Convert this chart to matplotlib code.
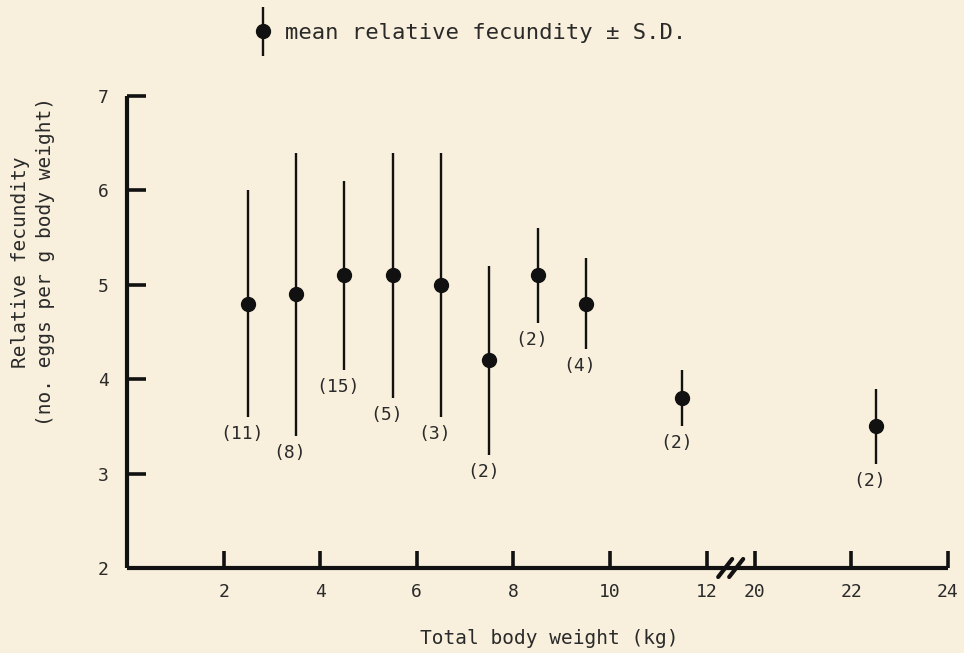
import numpy as np
import matplotlib
matplotlib.use("Agg")
import matplotlib.pyplot as plt
from matplotlib.lines import Line2D
from matplotlib.legend_handler import HandlerErrorbar
from matplotlib.container import ErrorbarContainer

# ---- data ----
body_weight = [2.5, 3.5, 4.5, 5.5, 6.5, 7.5, 8.5, 9.5, 11.5, 22.5]
mean_fecundity = [4.8, 4.9, 5.1, 5.1, 5.0, 4.2, 5.1, 4.8, 3.8, 3.5]
sd_fecundity = [1.2, 1.5, 1.0, 1.3, 1.4, 1.0, 0.5, 0.48, 0.3, 0.4]
sample_n = [11, 8, 15, 5, 3, 2, 2, 4, 2, 2]
x_ticks = [2, 4, 6, 8, 10, 12, 20, 22, 24]
y_ticks = [2, 3, 4, 5, 6, 7]

BG = "#f8f0dc"
INK = "#111111"
TXT = "#2a2a2a"

plt.rcParams["font.family"] = ["DejaVu Sans Mono", "DejaVu Sans"]

fig = plt.figure(figsize=(9.64, 6.53), dpi=100, facecolor=BG)
ax = fig.add_axes([127/964, 1-568/653, (948-127)/964, (568-96)/653])
ax.set_facecolor(BG)

# broken x axis: 12 -> 20 gap compressed
def fwd(x):
    x = np.asarray(x, dtype=float)
    return np.where(x <= 12.5, x, np.where(x >= 19.5, x - 7.0, 12.5))

def inv(y):
    y = np.asarray(y, dtype=float)
    return np.where(y <= 12.5, y, y + 7.0)

ax.set_xscale("function", functions=(fwd, inv))
ax.set_xlim(0, 24)
ax.set_ylim(2, 7)

eb = ax.errorbar(body_weight, mean_fecundity, yerr=sd_fecundity, fmt="o",
                 color=INK, ms=10, elinewidth=1.7, capsize=0, clip_on=False)

for x, m, s, n in zip(body_weight, mean_fecundity, sd_fecundity, sample_n):
    ax.annotate(f"({n})", xy=(x, m - s), xytext=(-6, -17),
                textcoords="offset pixels", ha="center", va="center",
                fontsize=13, color=TXT)

ax.set_xticks(x_ticks)
ax.set_xticklabels([str(t) for t in x_ticks])
ax.set_yticks(y_ticks)
ax.set_yticklabels([str(t) for t in y_ticks])
ax.minorticks_off()

for side in ("top", "right"):
    ax.spines[side].set_visible(False)
for side in ("left", "bottom"):
    ax.spines[side].set_linewidth(3)
    ax.spines[side].set_color(INK)
    ax.spines[side].set_capstyle("butt")

ax.tick_params(axis="y", direction="in", length=14, width=2.6, color=INK,
               labelsize=13, labelcolor=TXT, pad=13)
ax.tick_params(axis="x", direction="in", length=12, width=2.6, color=INK,
               labelsize=13, labelcolor=TXT, pad=11)

ax.set_xlabel("Total body weight (kg)", fontsize=14, color=TXT)
ax.xaxis.set_label_coords((549-127)/821, -(638-568)/472)
ax.xaxis.label.set_va("center")

ax.set_ylabel("Relative fecundity\n(no. eggs per g body weight)",
              fontsize=14, color=TXT, linespacing=1.35)
ax.yaxis.label.set_va("center")
ax.yaxis.label.set_ha("center")
ax.yaxis.set_label_coords((33-127)/821, (568-262)/472)

# break marks on x axis
fig.canvas.draw()
bx_disp = ax.transData.transform((16.0, 2.0))
bx = ax.transAxes.inverted().transform(bx_disp)[0]
W, H = 821.0, 472.0
for off in (-5.5, 5.5):
    ax.add_line(Line2D([bx + (off - 7) / W, bx + (off + 7) / W],
                       [-9 / H, 9 / H], transform=ax.transAxes,
                       color=INK, lw=3, clip_on=False, solid_capstyle="round"))
    
# legend at top
fig.legend(handles=[eb], labels=["mean relative fecundity \u00b1 S.D."],
           loc="center left", bbox_to_anchor=(252/964, 1-33/653),
           frameon=False, fontsize=16, handlelength=1.0, handletextpad=0.5,
           borderpad=0, borderaxespad=0, labelcolor=TXT,
           handler_map={ErrorbarContainer: HandlerErrorbar(xerr_size=0.5, yerr_size=1.1)})

fig.savefig("out.png", dpi=100, facecolor=BG)
